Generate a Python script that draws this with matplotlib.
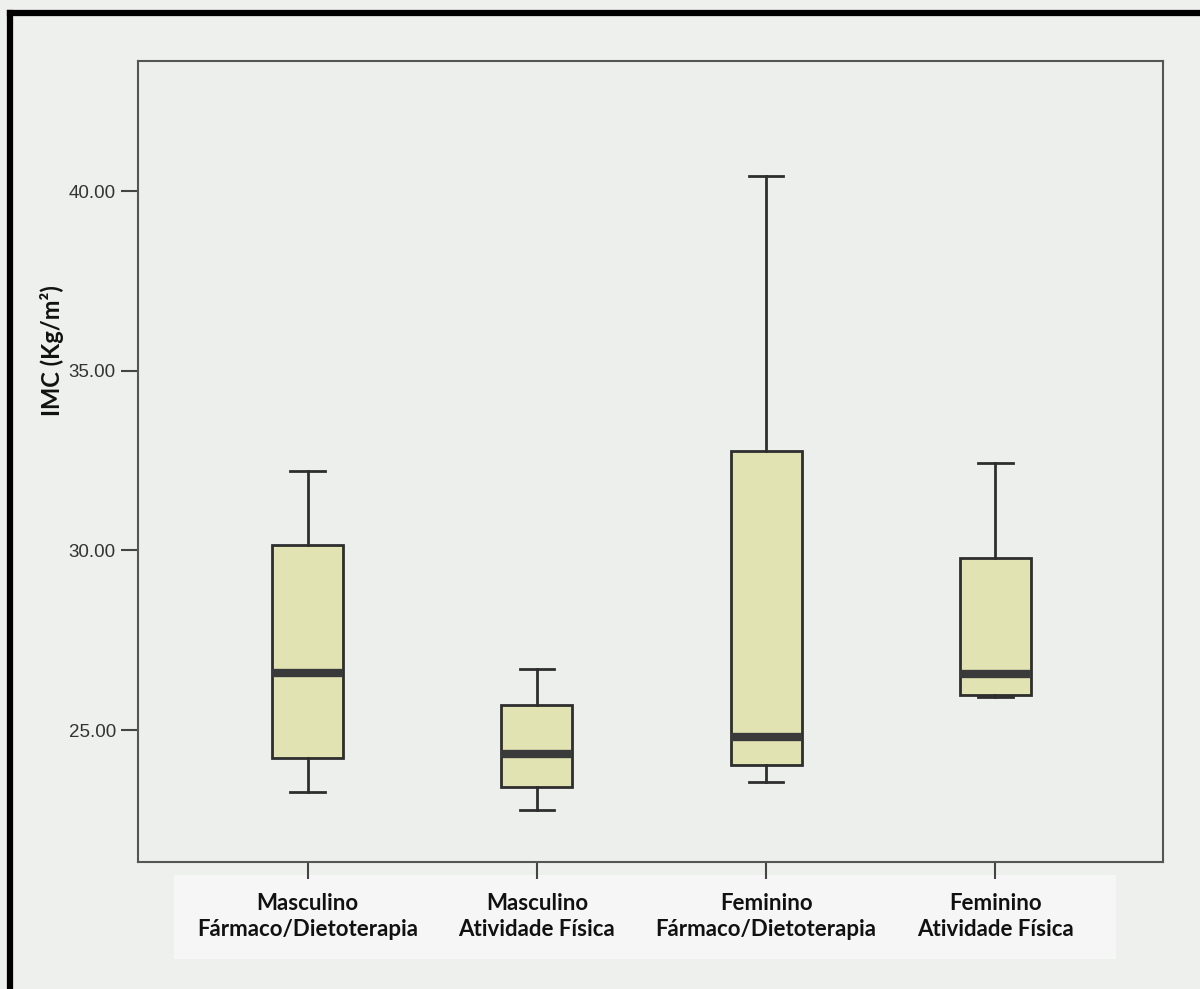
import matplotlib
matplotlib.use("Agg")
import matplotlib.pyplot as plt
from matplotlib.patches import Rectangle
from matplotlib.lines import Line2D

# group labels and box statistics
groups = ["Masculino\nFármaco/Dietoterapia", "Masculino\nAtividade Física",
          "Feminino\nFármaco/Dietoterapia", "Feminino\nAtividade Física"]
whisk_lo = [23.27, 22.78, 23.56, 25.92]
q1 = [24.22, 23.42, 24.03, 25.97]
median = [26.60, 24.33, 24.80, 26.55]
q3 = [30.14, 25.70, 32.78, 29.80]
whisk_hi = [32.22, 26.70, 40.42, 32.44]
yticks = [25, 30, 35, 40]

bg = "#eef0ed"
fig = plt.figure(figsize=(12, 9.89), dpi=100, facecolor=bg)
ax = fig.add_axes([0.115, 0.1284, 0.854, 0.81])
ax.set_facecolor("#ecefeb")

# lighter patch behind the category labels
fig.patches.append(Rectangle((0.145, 0.03), 0.785, 0.085, transform=fig.transFigure,
                             facecolor="#f5f6f5", edgecolor="none", zorder=-5))

stats = []
for i in range(len(groups)):
    stats.append({"whislo": whisk_lo[i], "q1": q1[i], "med": median[i],
                  "q3": q3[i], "whishi": whisk_hi[i], "fliers": []})

pos = list(range(1, len(groups) + 1))
edge = "#2e2e2e"
ax.bxp(stats, positions=pos, widths=0.31, patch_artist=True, showfliers=False,
       boxprops=dict(facecolor="#e2e3b3", edgecolor=edge, linewidth=2),
       medianprops=dict(color="#3a3a3a", linewidth=6, solid_capstyle="butt"),
       whiskerprops=dict(color=edge, linewidth=2),
       capprops=dict(color=edge, linewidth=2),
       capwidths=0.15)

ax.set_xlim(0.26, 4.73)
ax.set_ylim(21.33, 43.62)
ax.set_yticks(yticks)
ax.set_yticklabels([f"{v:.2f}" for v in yticks], fontsize=13.5,
                   family="Liberation Sans", color="#333333")
ax.set_xticks(pos)
ax.set_xticklabels(groups, fontsize=16, family="Lato", fontweight="bold",
                   color="#111111", linespacing=1.3)
ax.tick_params(axis="both", length=12, width=1.5, color="#444444", direction="out")
ax.tick_params(axis="y", pad=4)
ax.tick_params(axis="x", pad=10)
for s in ax.spines.values():
    s.set_color("#555555")
    s.set_linewidth(1.5)

fig.text(0.043, 0.646, "IMC (Kg/m²)", rotation=90, ha="center", va="center",
         fontsize=17, family="Lato", fontweight="bold", color="#111111")

# black scan border on left and top
fig.lines.append(Line2D([0.0085, 0.0085], [0.0, 0.987], transform=fig.transFigure,
                        color="black", linewidth=4.5))
fig.lines.append(Line2D([0.0085, 1.0], [0.987, 0.987], transform=fig.transFigure,
                        color="black", linewidth=4.5))

fig.savefig("out.png", dpi=100, facecolor=bg)
